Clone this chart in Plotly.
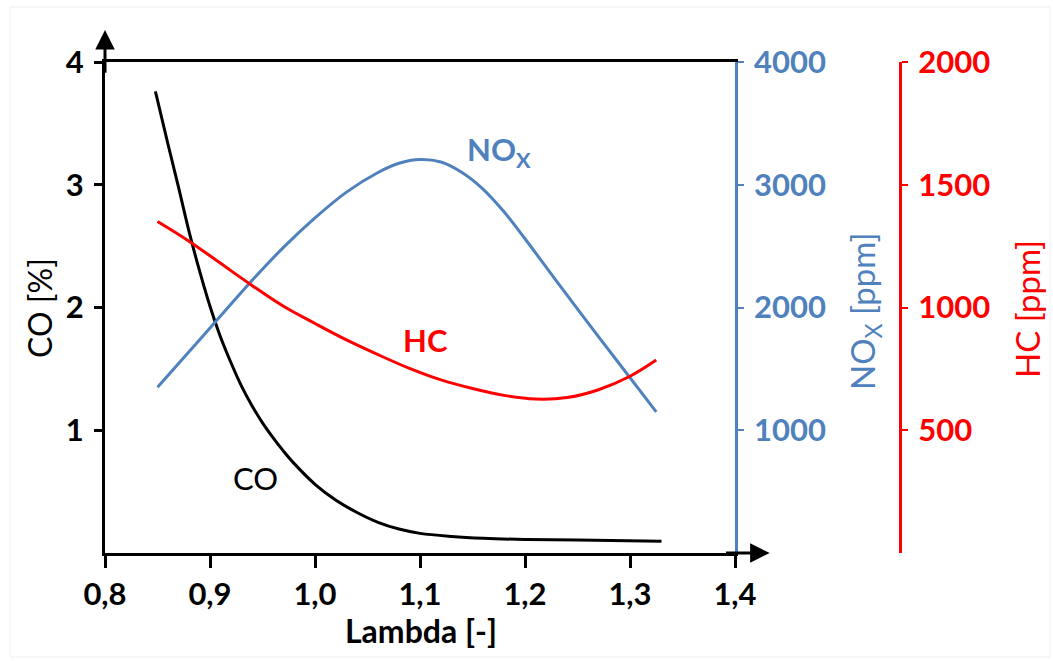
import plotly.graph_objects as go

# ---- data ----
lam_co = [0.848, 0.86, 0.87, 0.88, 0.89, 0.90, 0.91, 0.92, 0.93, 0.94, 0.95, 0.96, 0.97,
          0.98, 1.00, 1.02, 1.04, 1.06, 1.08, 1.10, 1.13, 1.16, 1.20, 1.25, 1.33]
co_pct = [3.76, 3.33, 2.98, 2.62, 2.30, 2.01, 1.76, 1.55, 1.36, 1.20, 1.06, 0.94, 0.83,
          0.73, 0.56, 0.43, 0.33, 0.25, 0.195, 0.16, 0.135, 0.12, 0.11, 0.105, 0.095]

lam_nox = [0.85, 0.88, 0.91, 0.94, 0.97, 1.00, 1.03, 1.06, 1.08, 1.10, 1.12, 1.14,
           1.16, 1.18, 1.20, 1.23, 1.26, 1.29, 1.325]
nox_ppm = [1350, 1640, 1930, 2220, 2490, 2730, 2940, 3100, 3175, 3205, 3185, 3100,
           2965, 2780, 2560, 2215, 1875, 1540, 1150]

lam_hc = [0.85, 0.88, 0.91, 0.94, 0.97, 1.00, 1.03, 1.06, 1.09, 1.12, 1.15, 1.18,
          1.21, 1.24, 1.27, 1.30, 1.325]
hc_ppm = [1350, 1270, 1180, 1090, 1005, 935, 868, 808, 752, 705, 670, 642,
          627, 633, 665, 720, 786]

x_ticks = [0.8, 0.9, 1.0, 1.1, 1.2, 1.3, 1.4]
x_ticktext = ["0,8", "0,9", "1,0", "1,1", "1,2", "1,3", "1,4"]
co_ticks = [1, 2, 3, 4]
nox_ticks = [1000, 2000, 3000, 4000]
hc_ticks = [500, 1000, 1500, 2000]

BLUE = "#4F81BD"
RED = "#FF0000"
FONT = "Lato"

W, H = 1053, 661
T, B = 62, 108
PH = H - T - B

def px_x(px):
    return px / W

def px_y(py):
    return (H - B - py) / PH

fig = go.Figure()
fig.add_trace(go.Scatter(x=lam_co, y=co_pct, mode="lines", yaxis="y",
                         line=dict(color="black", width=3, shape="spline")))
fig.add_trace(go.Scatter(x=lam_nox, y=nox_ppm, mode="lines", yaxis="y2",
                         line=dict(color=BLUE, width=3, shape="spline")))
fig.add_trace(go.Scatter(x=lam_hc, y=hc_ppm, mode="lines", yaxis="y3",
                         line=dict(color=RED, width=3, shape="spline")))

TS = 31
TT = 32
tick_font = dict(family=FONT, size=TS, weight="bold")

fig.update_layout(
    width=W, height=H,
    margin=dict(l=0, r=0, t=T, b=B, autoexpand=False),
    paper_bgcolor="white", plot_bgcolor="white",
    showlegend=False,
    xaxis=dict(domain=[105 / W, 735 / W], range=[0.8, 1.4], showgrid=False, zeroline=False,
               showline=True, linecolor="black", linewidth=3, mirror=True,
               ticks="outside", ticklen=12, tickwidth=3, tickcolor="black",
               tickvals=x_ticks, ticktext=x_ticktext, tickfont=dict(tick_font, color="black"),
               automargin=False),
    yaxis=dict(domain=[0, 1], range=[0, 4], showgrid=False, zeroline=False,
               showline=True, linecolor="black", linewidth=3,
               ticks="outside", ticklen=8, tickwidth=3, tickcolor="black",
               tickvals=co_ticks, tickfont=dict(tick_font, color="black"),
               ticklabelstandoff=4, automargin=False),
    yaxis2=dict(overlaying="y", side="right", anchor="x", range=[0, 4000],
                showgrid=False, zeroline=False,
                showline=True, linecolor=BLUE, linewidth=2.5,
                ticks="outside", ticklen=6, tickwidth=2, tickcolor=BLUE,
                tickvals=nox_ticks, tickfont=dict(tick_font, color=BLUE),
                ticklabelstandoff=4, automargin=False),
    yaxis3=dict(overlaying="y", side="right", anchor="free", position=900 / W,
                range=[0, 2000], showgrid=False, zeroline=False,
                showline=True, linecolor=RED, linewidth=3,
                ticks="outside", ticklen=6, tickwidth=2, tickcolor=RED,
                tickvals=hc_ticks, tickfont=dict(tick_font, color=RED),
                ticklabelstandoff=4, automargin=False),
)

ann = []
# axis arrows
ann.append(dict(xref="x", yref="y", axref="x", ayref="y", x=0.8, y=4.26, ax=0.8, ay=3.9,
                showarrow=True, arrowhead=2, arrowsize=1.3, arrowwidth=3, arrowcolor="black", text=""))
ann.append(dict(xref="x", yref="y", axref="x", ayref="y", x=1.433, y=0, ax=1.39, ay=0,
                showarrow=True, arrowhead=2, arrowsize=1.3, arrowwidth=3, arrowcolor="black", text=""))

def label(x, y, text, color, bold, angle=0, xref="paper", yref="paper", size=TS):
    f = dict(family=FONT, size=size, color=color)
    if bold:
        f["weight"] = "bold"
    return dict(xref=xref, yref=yref, x=x, y=y, text=text, textangle=angle,
                xanchor="center", yanchor="middle", showarrow=False, font=f)

# axis titles
ann.append(label(px_x(421), px_y(630), "Lambda [-]", "black", True, size=TT))
ann.append(label(px_x(39), px_y(308), "CO [%]", "black", False, -90, size=TT))
ann.append(label(px_x(864), px_y(311), "NO<sub>X</sub> [ppm]", BLUE, False, -90, size=TT + 1))
ann.append(label(px_x(1027), px_y(309), "HC [ppm]", RED, False, -90, size=TT + 1))
# curve labels
ann.append(label(1.175, 3.27, "NO<sub>X</sub>", BLUE, True, xref="x", yref="y"))
ann.append(label(1.105, 1.735, "HC", RED, True, xref="x", yref="y"))
ann.append(label(0.943, 0.61, "CO", "black", False, xref="x", yref="y"))
fig.update_layout(annotations=ann)

# faint frame around the picture
fig.add_shape(type="rect", xref="paper", yref="paper", x0=px_x(10), x1=px_x(1050),
              y0=px_y(657), y1=px_y(7), line=dict(color="#f0f0f0", width=1), layer="below")

fig.write_html("out.html")
